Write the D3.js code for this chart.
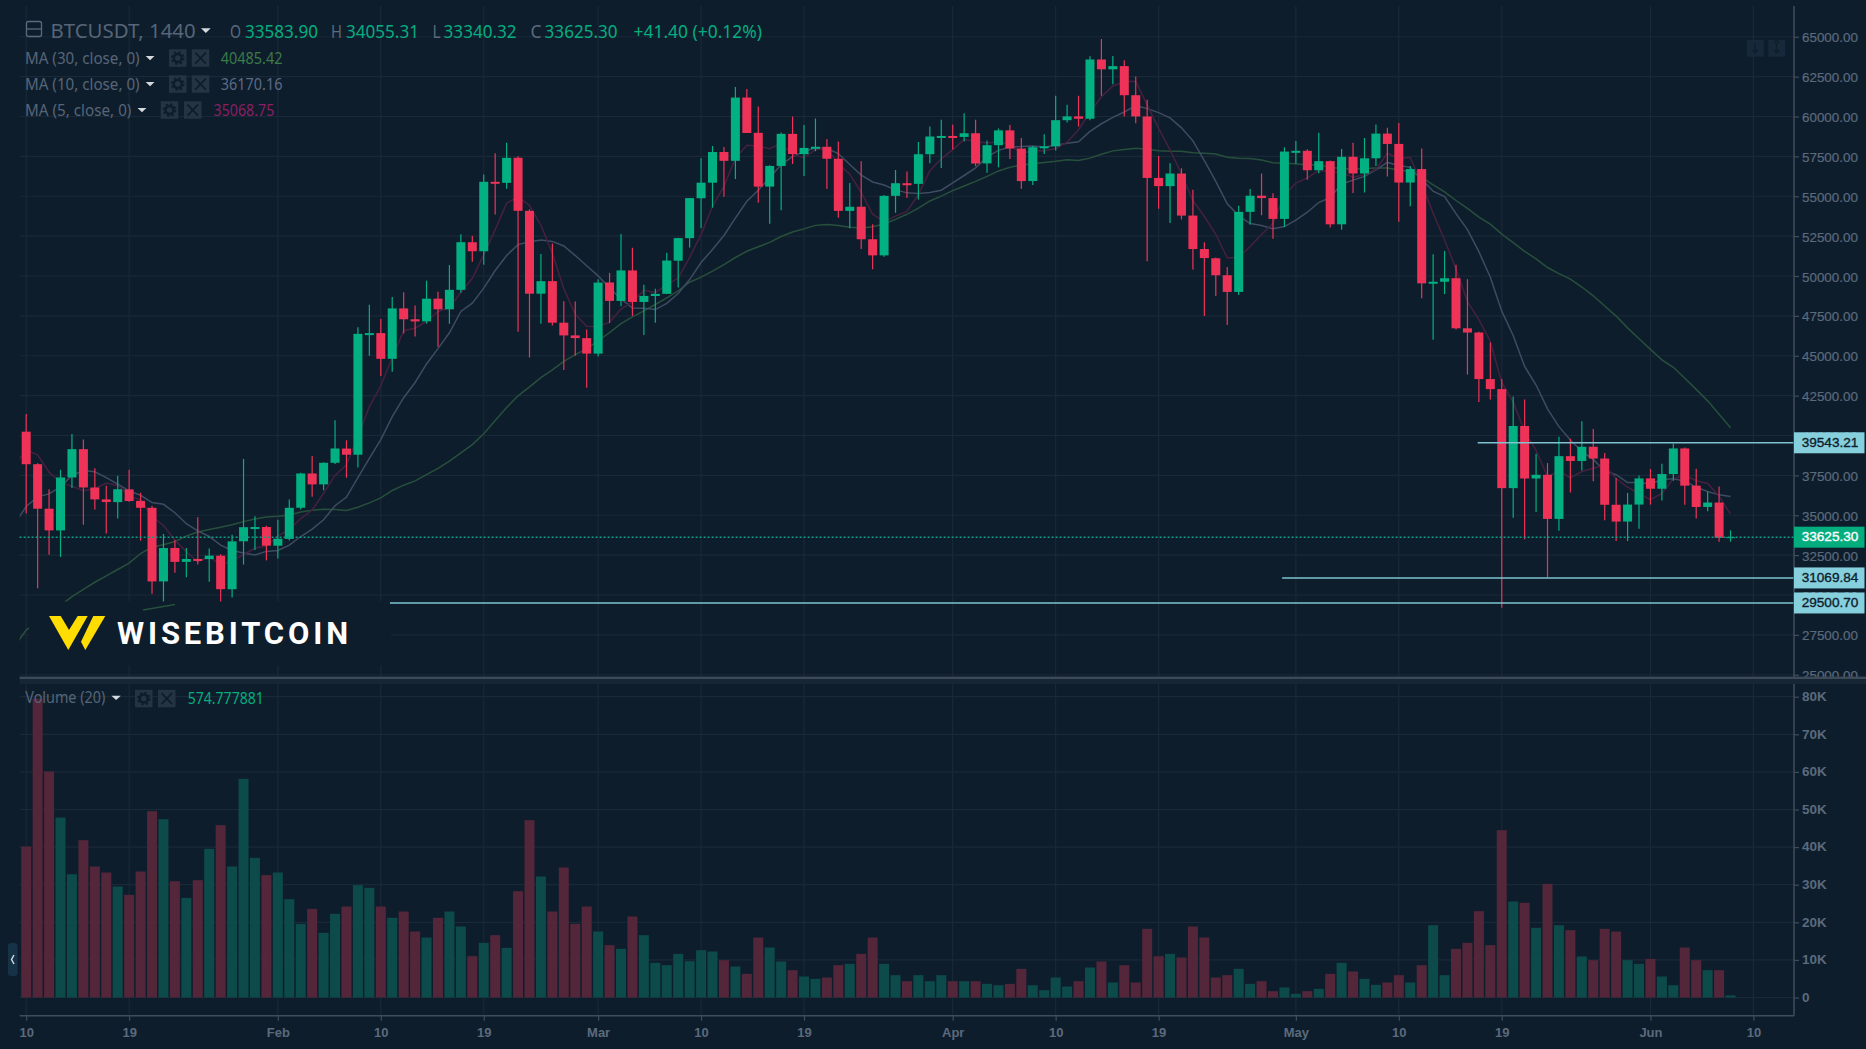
<!DOCTYPE html>
<html>
<head>
<meta charset="utf-8">
<title>BTCUSDT, 1440</title>
<script src="https://cdn.jsdelivr.net/npm/d3@7"></script>
<style>
	html, body { margin: 0; padding: 0; background: #0e1d2c; overflow: hidden; }
	svg { display: block; }
</style>
</head>
<body>
<svg id="chart" width="1866" height="1049"></svg>
<script>
// values, one entry per daily candle starting 10 Jan
var opens = [
	40240,38200,35410,34049,37371,39145,36737,35994,35824,36622,
	35901,35468,30851,32950,32078,32259,32251,32464,30362,33368,
	34246,34262,33092,33517,35472,37620,36936,38289,39181,38795,
	46374,46420,44807,47969,47288,47156,48580,47911,49133,52117,
	51552,55906,55841,57413,54087,48891,49677,47073,46276,46104,
	45134,49595,48436,50349,48374,48746,48882,50959,52375,54874,
	55851,57773,57222,61188,58976,55605,56900,58912,57641,58030,
	58100,57351,54083,54342,52303,51293,55025,55817,55777,57635,
	58746,58780,58720,58950,57059,58202,59130,57990,55953,58077,
	58130,59770,60007,59860,63575,62959,63159,61334,60001,56150,
	55633,56425,53788,51690,51111,50047,49004,54021,55036,54885,
	53580,57800,57850,56631,57200,53241,57473,56428,57380,58928,
	58280,55859,56704,49540,49640,49860,46720,46456,43538,42909,
	36700,40596,37304,37537,34770,38705,38402,39294,38556,35658,
	34605,35670,37310,36662,37585,39188,36856,35520,35796,33583.90
];
var highs = [
	41350,38264,36628,37850,40100,39747,37950,36852,37469,37850,
	36415,35600,33826,33456,32944,34875,32921,32557,33783,38531,
	34933,34342,34717,35984,37662,38708,38310,40955,39700,46794,
	48200,47310,48678,48985,48150,49707,49010,50689,52618,52530,
	56368,57700,58352,57508,54183,51374,52041,48424,48395,46638,
	49790,50200,52640,51773,49448,49200,51450,52402,54895,57387,
	58150,58081,61844,61724,60633,56938,58999,60000,59468,59880,
	58589,58430,55830,57200,53240,55073,56640,56559,58405,59368,
	59800,59490,60200,59791,58500,59251,59474,58650,58153,58894,
	61300,60740,61300,63777,64854,63800,63520,62506,61057,57526,
	57076,56757,55410,52120,51165,50567,54400,55460,56428,55195,
	58075,58458,57944,58981,57237,57970,58360,58650,59500,59300,
	59592,56900,58000,51367,51560,50700,49800,46500,45832,43546,
	42451,42250,38856,38270,39920,39800,40900,40411,38900,37338,
	36400,37499,37900,38225,39476,39255,37921,36480,36800,34055.31
];
var lows = [
	35111,30420,32531,32380,36701,34408,35357,33850,34800,35844,
	33400,30071,28850,31390,31106,31910,30837,29241,29842,31915,
	32825,32171,32296,33418,35362,36161,36570,38215,37351,37988,
	45000,43727,43994,46400,46202,47014,45570,47003,48947,50901,
	50710,53863,55477,46500,44892,47003,46900,44106,45000,43000,
	44950,47047,48100,47500,46300,47070,48882,49274,51789,53005,
	54272,54962,56078,58966,54600,53271,54123,57023,56270,57820,
	55450,53650,53000,51700,50427,51214,53966,54897,54800,57071,
	56769,57935,58428,56888,56478,56817,57333,55473,55700,57654,
	57875,59625,59369,59770,61301,62021,60000,59580,50931,54221,
	53329,53536,50400,47500,48753,46930,48807,53222,53813,52330,
	53068,57033,56035,56437,53046,52900,55200,55241,56900,56235,
	53400,54370,48600,46000,48868,46650,43825,42100,42250,29200,
	34850,33488,35200,31111,34031,36419,37800,37134,34684,33379,
	33380,34153,35666,35920,37170,35659,34800,35258,33337,33340.32
];
var closes = [
	38200,35410,34051,37371,39144,36742,35994,35828,36631,35891,
	35468,30850,32945,32078,32259,32254,32467,30366,33364,34252,
	34262,33092,33526,35466,37618,36936,38290,39186,38795,46374,
	46420,44807,47969,47287,47153,48577,47911,49133,52119,51552,
	55906,55841,57408,54087,48891,49676,47073,46276,46106,45135,
	49587,48440,50349,48374,48751,48882,50971,52375,54884,55851,
	57773,57221,61188,58968,55605,56900,58912,57648,58030,58102,
	57351,54083,54340,52303,51293,55025,55817,55777,57635,58746,
	58780,58720,58950,57051,58202,59129,57991,55950,58077,58130,
	59770,60007,59860,63575,62959,63159,61334,60006,56150,55633,
	56425,53787,51690,51125,50047,49004,54021,55033,54885,53580,
	57800,57850,56631,57200,53241,57473,56428,57380,58928,58280,
	55859,56704,49540,49640,49860,46720,46456,43538,42909,36700,
	40596,37304,37537,34770,38705,38402,39294,38556,35658,34605,
	35670,37310,36662,37585,39188,36856,35520,35796,33583.90,33625.30
];
var volumes = [
	40160,79500,60100,47870,32800,41840,34840,33250,29520,27300,
	33510,49560,47430,30940,26500,31200,39540,45830,34840,58160,
	37150,32540,33250,26150,19600,23580,17200,22250,24200,29880,
	29170,24200,21190,22870,17550,15960,21190,22870,18880,10990,
	14540,16580,13210,28280,47160,32180,22870,34570,19600,24200,
	17550,13920,12940,21540,16580,9220,8600,11610,9660,12590,
	12230,9930,8240,6290,15960,13300,9570,7270,5590,4960,
	5320,8600,8950,11610,15960,8950,5940,4340,5940,4340,
	5940,4340,4340,4340,3630,3280,3630,7620,3280,1950,
	5320,2930,4340,7980,9570,3990,8600,3990,18260,10990,
	11610,10640,18880,15960,5320,5940,7620,3630,4340,1680,
	2660,980,1680,2300,6290,9220,6910,4960,3370,3990,
	5940,3990,8600,19240,5940,12940,14540,22960,13920,44500,
	25530,25180,18530,30230,19240,17910,10900,9930,18260,17550,
	9930,8950,10280,5590,3280,13300,9930,7270,7270,574.78
];
// the averages start one day earlier (9 Jan) so they reach the left edge of the pane
var ma5 = [
	38164,
	39069,38785,37703,37043,36824,36542,36660,37016,36868,36217,
	35962,34934,34357,33446,32720,32077,32401,31885,32142,32541,
	32942,33067,33699,34120,34793,35328,36367,37499,38165,39916,
	41813,43116,44873,46571,46727,47159,47779,48012,48979,49858,
	51324,52910,54565,54959,54427,53181,51427,49201,47604,46853,
	46835,47109,47923,48377,49100,48959,49465,49871,51173,52593,
	54371,55621,57383,58200,58151,57976,58315,57607,57419,57918,
	58009,57043,56381,55236,53874,53409,53756,54043,55109,56600,
	57343,57924,58558,58441,58333,58410,58265,57665,57870,57855,
	57984,58387,59169,60268,61234,61912,62177,62207,60722,59256,
	57910,56400,54737,53732,52615,51131,51177,51846,52598,53305,
	55064,55830,56149,56612,56544,56479,56195,56344,56690,57698,
	57375,57430,55784,53942,52262,50442,48392,47270,45909,43325,
	42093,40262,39062,37434,37782,37344,37742,37945,38123,37303,
	36757,36360,35981,36366,37283,37520,37162,36989,36189,35068.75
];
var ma10 = [
	34480,
	35547,36154,36341,36778,37494,37806,37723,37360,36956,36521,
	36252,35797,35687,35157,34469,34020,33668,33121,32794,32631,
	32510,32734,32792,33131,33667,34135,34717,35599,36143,37355,
	38571,39742,41186,42368,43322,44486,45448,46443,47775,48293,
	49242,50345,51289,51969,52143,52253,52169,51883,51282,50640,
	50008,49268,48562,47991,47977,47897,48287,48897,49775,50847,
	51665,52543,53627,54687,55372,56174,56968,57495,57810,58035,
	57993,57679,56994,56328,55896,55709,55400,55212,55173,55237,
	55376,55840,56301,56775,57467,57877,58095,58112,58156,58094,
	58197,58326,58417,59069,59545,59948,60282,60688,60495,60245,
	59911,59289,58472,57227,55936,54521,53789,53292,53165,52960,
	53098,53504,53998,54605,54925,55772,56013,56247,56651,57121,
	56927,56813,56064,55316,54980,53909,52911,51527,49926,47794,
	46268,44327,43166,41672,40554,39719,39002,38504,37779,37543,
	37051,37051,36963,37245,37293,37139,36761,36485,36278,36170.16
];
var ma30 = [
	26800,
	27800,28300,28800,29350,29900,30350,30800,31200,31600,32000,
	32600,33000,33150,33350,33700,33950,34100,34250,34400,34600,
	34770,34895,34940,35022,35210,35320,35369,35360,35298,35502,
	35778,36091,36555,36885,37153,37547,37944,38388,38904,39426,
	40108,40940,41756,42489,43044,43625,44111,44642,45067,45429,
	45940,46452,47012,47443,47814,48212,48635,49074,49611,49927,
	50305,50719,51159,51549,51831,52108,52475,52758,52956,53174,
	53222,53163,53061,53002,53082,53260,53552,53868,54253,54706,
	55011,55354,55641,55930,56245,56587,56821,56940,57046,57122,
	57189,57282,57237,57391,57636,57845,57926,58004,57941,57859,
	57828,57818,57730,57690,57649,57449,57389,57364,57272,57100,
	57069,57040,56962,56967,56802,56747,56695,56742,56770,56775,
	56645,56535,56178,55716,55280,54734,54238,53689,53247,52625,
	52098,51548,51076,50531,50153,49800,49309,48759,48119,47486,
	46749,46064,45398,44744,44276,43589,42891,42172,41328,40485.42
];

var priceTicks = d3.range(25000, 65001, 2500);
var volumeTicks = d3.range(0, 80001, 10000);
var timeTickDays = [0, 9, 22, 31, 40, 50, 59, 68, 81, 90, 99, 111, 120, 129, 142, 151];
var timeTickLabels = ["10", "19", "Feb", "10", "19", "Mar", "10", "19", "Apr", "10", "19", "May", "10", "19", "Jun", "10"];

var priceLineValues = [39543.21, 31069.84, 29500.70];
var priceLineStartDays = [126.9, 109.8, 31.8];
var lastPrice = 33625.30;

var bg = "#0e1d2c", gridColor = "#1a2937", axisColor = "#3f4d5d", axisText = "#5b6a7c";
var up = "#03b082", down = "#ef3358", upVol = "#0d4a4a", downVol = "#53263a";
var paneLeft = 19.6, paneRight = 1794;

var x = d3.scaleLinear().domain([0, 151]).range([26.2, 1753.4]);
var y = d3.scaleLinear().domain([25000, 65000]).range([674.75, 36.75]);
var yVol = d3.scaleLinear().domain([0, 80000]).range([997.5, 696.7]);

var svg = d3.select("#chart");
svg.append("rect").attr("width", 1866).attr("height", 1049).attr("fill", bg);

var defs = svg.append("defs");
defs.append("clipPath").attr("id", "mainClip").append("rect")
	.attr("x", paneLeft).attr("y", 6).attr("width", paneRight - paneLeft).attr("height", 671);
defs.append("clipPath").attr("id", "labelClip25k").append("rect")
	.attr("x", 0).attr("y", -10).attr("width", 80).attr("height", 12);

// grid
var grid = svg.append("g").attr("stroke", gridColor).attr("stroke-width", 1.2);
grid.selectAll(".v").data(timeTickDays).enter().append("line")
	.attr("x1", function(d) { return x(d); }).attr("x2", function(d) { return x(d); })
	.attr("y1", 6).attr("y2", 1015);
grid.selectAll(".h").data(priceTicks).enter().append("line")
	.attr("x1", paneLeft).attr("x2", paneRight)
	.attr("y1", function(d) { return y(d); }).attr("y2", function(d) { return y(d); });
grid.selectAll(".hv").data(volumeTicks).enter().append("line")
	.attr("x1", paneLeft).attr("x2", paneRight)
	.attr("y1", function(d) { return yVol(d); }).attr("y2", function(d) { return yVol(d); });

// moving averages go under the candles
var line = d3.line().x(function(d, i) { return x(i - 1); }).y(function(d) { return y(d); });
var main = svg.append("g").attr("clip-path", "url(#mainClip)");
var maSeries = [[ma30, "#27503c"], [ma10, "#3e4b62"], [ma5, "#46203f"]];
main.selectAll(".ma").data(maSeries).enter().append("path")
	.attr("d", function(d) { return line(d[0]); })
	.attr("fill", "none").attr("stroke", function(d) { return d[1]; }).attr("stroke-width", 1.5);

// candles
var candle = main.selectAll(".candle").data(closes).enter().append("g");
candle.append("line")
	.attr("x1", function(d, i) { return x(i); }).attr("x2", function(d, i) { return x(i); })
	.attr("y1", function(d, i) { return y(highs[i]); }).attr("y2", function(d, i) { return y(lows[i]); })
	.attr("stroke", function(d, i) { return d >= opens[i] ? up : down; }).attr("stroke-width", 1.2);
candle.append("rect")
	.attr("x", function(d, i) { return x(i) - 4.5; }).attr("width", 9)
	.attr("y", function(d, i) { return y(Math.max(d, opens[i])); })
	.attr("height", function(d, i) { return Math.max(i == 149 ? 1 : 2, Math.abs(y(d) - y(opens[i]))); })
	.attr("fill", function(d, i) { return d >= opens[i] ? up : down; });

// volume bars
svg.append("g").selectAll("rect").data(volumes).enter().append("rect")
	.attr("x", function(d, i) { return x(i) - 5; }).attr("width", 10)
	.attr("y", function(d) { return yVol(d); })
	.attr("height", function(d) { return yVol(0) - yVol(d); })
	.attr("fill", function(d, i) { return closes[i] >= opens[i] ? upVol : downVol; });

// logo sits on a pasted patch over the bottom of the price pane
var logo = svg.append("g");
logo.append("rect").attr("x", 29).attr("y", 601.5).attr("width", 362).attr("height", 64).attr("fill", bg);
logo.append("line").attr("x1", 143).attr("y1", 610).attr("x2", 175).attr("y2", 604.5)
	.attr("stroke", "#27503c").attr("stroke-width", 1.5);
logo.append("path").attr("d", "M49 616H60.7L69 630L77.7 616H87.7L68.3 650Z").attr("fill", "#ffdd00");
logo.append("path").attr("d", "M93.3 616H105.3L85.3 650L81 641.7Z").attr("fill", "#ffdd00");
logo.append("text").text("WISEBITCOIN").attr("x", 117).attr("y", 644)
	.attr("textLength", 231).attr("lengthAdjust", "spacing")
	.attr("font-family", "Roboto, sans-serif").attr("font-weight", 700).attr("font-size", 31)
	.attr("fill", "#ffffff");

// last price line and drawn horizontal lines
svg.append("line").attr("x1", paneLeft).attr("x2", paneRight)
	.attr("y1", y(lastPrice)).attr("y2", y(lastPrice))
	.attr("stroke", "#0f9d83").attr("stroke-width", 1.5).attr("stroke-dasharray", "2 2");
svg.append("g").selectAll("line").data(priceLineValues).enter().append("line")
	.attr("x1", function(d, i) { return x(priceLineStartDays[i]); }).attr("x2", paneRight)
	.attr("y1", function(d) { return y(d); }).attr("y2", function(d) { return y(d); })
	.attr("stroke", "#7fc3d0").attr("stroke-width", 1.5);

// axes
function styleAxis(g, size, weight) {
	g.selectAll(".tick line").attr("stroke", axisColor).attr("stroke-width", 1.2);
	g.selectAll("text").attr("fill", axisText).attr("font-size", size).attr("font-weight", weight)
		.attr("font-family", "'Liberation Sans', Arial, sans-serif");
}

var priceAxis = svg.append("g").attr("transform", "translate(" + paneRight + ",0)")
	.call(d3.axisRight(y).tickValues(priceTicks).tickSize(5).tickPadding(3)
		.tickFormat(function(d) { return d3.format(".2f")(d); }));
priceAxis.select("path.domain").remove();
styleAxis(priceAxis, 13.4, 400);
priceAxis.selectAll("text").attr("y", 0.7).attr("stroke", axisText).attr("stroke-width", 0.2);
priceAxis.selectAll(".tick").filter(function(d) { return d == 25000; }).select("text")
	.attr("clip-path", "url(#labelClip25k)");

var volumeAxis = svg.append("g").attr("transform", "translate(" + paneRight + ",0)")
	.call(d3.axisRight(yVol).tickValues(volumeTicks).tickSize(5).tickPadding(3)
		.tickFormat(function(d) { return d == 0 ? "0" : (d / 1000) + "K"; }));
volumeAxis.select("path.domain").remove();
styleAxis(volumeAxis, 13.5, 700);
volumeAxis.selectAll("text").attr("y", -0.5);

var timeAxis = svg.append("g").attr("transform", "translate(0,1015.7)")
	.call(d3.axisBottom(x).tickValues(timeTickDays).tickSize(5).tickPadding(7)
		.tickFormat(function(d, i) { return timeTickLabels[i]; }));
timeAxis.select("path.domain").remove();
styleAxis(timeAxis, 13, 700);

svg.append("line").attr("x1", paneLeft).attr("x2", paneRight).attr("y1", 1015.7).attr("y2", 1015.7)
	.attr("stroke", axisColor).attr("stroke-width", 1.5);
svg.append("line").attr("x1", paneRight).attr("x2", paneRight).attr("y1", 6).attr("y2", 1015.7)
	.attr("stroke", axisColor).attr("stroke-width", 1.5);

// pane separator
svg.append("rect").attr("x", paneLeft).attr("y", 679).attr("width", 1866 - paneLeft).attr("height", 5).attr("fill", "#172635");
svg.append("rect").attr("x", paneLeft).attr("y", 676.6).attr("width", 1866 - paneLeft).attr("height", 2.4).attr("fill", "#3c4a58");

// price labels on the axis
var boxes = [
	{ v: 39543.21, fill: "#86cfdc", text: "#0e1d2c" },
	{ v: 33625.30, fill: "#03ad7e", text: "#ffffff" },
	{ v: 31069.84, fill: "#86cfdc", text: "#0e1d2c" },
	{ v: 29500.70, fill: "#86cfdc", text: "#0e1d2c" }
];
var box = svg.append("g").selectAll("g").data(boxes).enter().append("g");
box.append("rect").attr("x", paneRight).attr("width", 70.5).attr("height", 21)
	.attr("y", function(d) { return y(d.v) - 10.5; }).attr("fill", function(d) { return d.fill; });
box.append("text").text(function(d) { return d3.format(".2f")(d.v); })
	.attr("x", 1801.7).attr("y", function(d) { return y(d.v) + 4.2; })
	.attr("font-family", "'Liberation Sans', Arial, sans-serif").attr("font-size", 13.6)
	.attr("fill", function(d) { return d.text; }).attr("stroke", function(d) { return d.text; }).attr("stroke-width", 0.35);

// legend
var legendFont = "'Noto Sans', sans-serif";
function label(str, x0, x1, base, size, color) {
	svg.append("text").text(str).attr("x", x0).attr("y", base)
		.attr("textLength", x1 - x0).attr("lengthAdjust", "spacingAndGlyphs")
		.attr("font-family", legendFont).attr("font-size", size).attr("fill", color);
}
function caret(x0, top, w, h) {
	svg.append("path").attr("d", "M" + x0 + " " + top + "h" + w + "l" + (-w / 2) + " " + h + "z").attr("fill", "#d5d9dd");
}
function buttons(x0, x1, top, h) {
	var w = 17.5;
	svg.append("rect").attr("x", x0).attr("y", top).attr("width", w).attr("height", h).attr("fill", "#253443");
	svg.append("circle").attr("cx", x0 + w / 2).attr("cy", top + h / 2).attr("r", 4)
		.attr("fill", "none").attr("stroke", "#0e1d2c").attr("stroke-width", 2.6);
	svg.append("circle").attr("cx", x0 + w / 2).attr("cy", top + h / 2).attr("r", 6)
		.attr("fill", "none").attr("stroke", "#0e1d2c").attr("stroke-width", 1.6).attr("stroke-dasharray", "2.4 2.3");
	svg.append("rect").attr("x", x1).attr("y", top).attr("width", w).attr("height", h).attr("fill", "#253443");
	svg.append("path").attr("d", "M" + (x1 + 3.5) + " " + (top + h / 2 - 5.5) + "l10.5 11m0 -11l-10.5 11")
		.attr("fill", "none").attr("stroke", "#0e1d2c").attr("stroke-width", 1.8);
}

svg.append("rect").attr("x", 26.5).attr("y", 21.5).attr("width", 15).attr("height", 15).attr("rx", 2)
	.attr("fill", "none").attr("stroke", axisText).attr("stroke-width", 1.3);
svg.append("line").attr("x1", 26.5).attr("x2", 41.5).attr("y1", 29).attr("y2", 29).attr("stroke", axisText).attr("stroke-width", 1.3);
label("BTCUSDT, 1440", 50.5, 195.7, 37.5, 20.5, "#566577");
caret(201, 28.3, 9.7, 4.6);

var ohlcLetters = ["O", "H", "L", "C"];
var ohlcValues = ["33583.90", "34055.31", "33340.32", "33625.30"];
var ohlcLetterX = [230, 331, 432.6, 530.4];
var ohlcValueX = [245, 346, 443.6, 544.6];
ohlcLetters.forEach(function(l, i) {
	label(l, ohlcLetterX[i], ohlcLetterX[i] + (l == "L" ? 8 : 11), 38, 18, "#5b6a7c");
	label(ohlcValues[i], ohlcValueX[i], ohlcValueX[i] + 73, 38, 18, "#05ad80");
});
label("+41.40 (+0.12%)", 633.5, 762, 38, 18, "#05ad80");

var maNames = ["MA (30, close, 0)", "MA (10, close, 0)", "MA (5, close, 0)"];
var maLast = ["40485.42", "36170.16", "35068.75"];
var maLastColor = ["#3c7a4a", "#5a6b85", "#8a1f63"];
var maRowX = [[139.6, 145.7, 169, 191.8, 220.8, 282.4], [139.6, 145.7, 169, 191.8, 220.8, 282.4], [131.4, 137.6, 160.8, 184, 213.5, 274.3]];
maNames.forEach(function(n, i) {
	var base = 63.5 + i * 26, r = maRowX[i];
	label(n, 25, r[0], base, 16, "#566577");
	caret(r[1], base - 7.6, 8.8, 4.4);
	buttons(r[2], r[3], base - 14.2, 17.5);
	label(maLast[i], r[4], r[5], base + 0.5, 16, maLastColor[i]);
});

label("Volume (20)", 25.3, 105.3, 703.3, 16, "#566577");
caret(111.4, 695.7, 9.4, 4.4);
buttons(135, 158, 689.8, 17.5);
label("574.777881", 187.8, 263.7, 704, 16, "#05ad80");

// collapse handle and the faint scale buttons
svg.append("rect").attr("x", 8).attr("y", 943).attr("width", 9.5).attr("height", 33).attr("rx", 3).attr("fill", "#163247");
svg.append("path").attr("d", "M14 955l-2.5 4.5l2.5 4.5").attr("fill", "none").attr("stroke", "#d5e0e8").attr("stroke-width", 1.4);
[1747, 1768.3].forEach(function(bx, i) {
	svg.append("rect").attr("x", bx).attr("y", 40).attr("width", 16.7).attr("height", 16.7).attr("fill", "#17283a");
	svg.append("path").attr("d", i == 0 ? "M" + (bx + 8.3) + " 43v10m-2.5 -3l2.5 3l2.5 -3" : "M" + (bx + 8.3) + " 43v10m-2.5 -3l2.5 3l2.5 -3m-5 -7l2.5 -3l2.5 3")
		.attr("fill", "none").attr("stroke", "#0f1e2b").attr("stroke-width", 1.4);
});
</script>
</body>
</html>
